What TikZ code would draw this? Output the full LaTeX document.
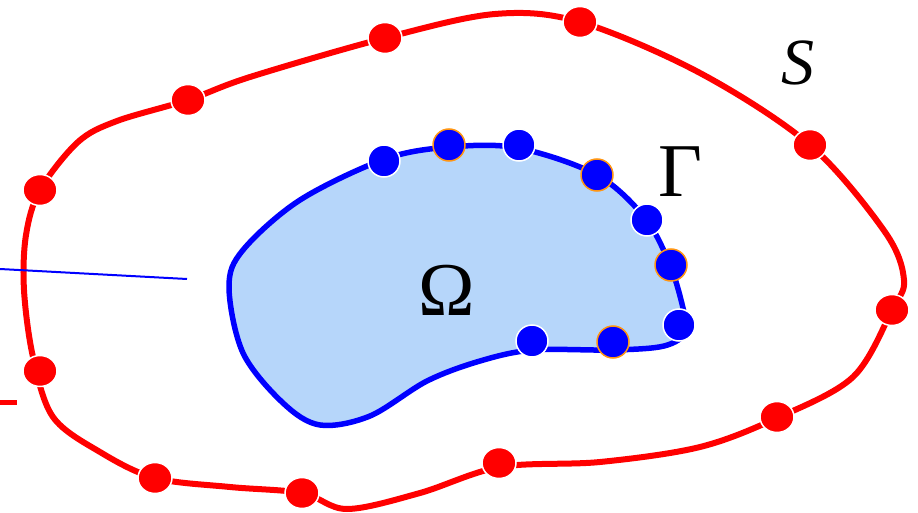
\documentclass[tikz,border=0pt]{standalone}
\usepackage{fontspec}
\setmainfont{Liberation Serif}
\newfontfamily\lblfont{Liberation Serif}
\usetikzlibrary{shapes.geometric}
\definecolor{rd}{RGB}{255,0,0}
\definecolor{bl}{RGB}{0,0,255}
\definecolor{fillb}{RGB}{182,214,250}
\definecolor{org}{RGB}{255,150,20}
\tikzset{
  rdot/.style={ellipse, fill=rd, draw=white, line width=1.5pt, minimum width=34pt, minimum height=31pt, inner sep=0pt},
  bdot/.style={circle, fill=bl, draw=white, line width=1.5pt, minimum size=32pt, inner sep=0pt},
  odot/.style={circle, fill=bl, draw=org, line width=1.5pt, minimum size=32pt, inner sep=0pt},
  lbl/.style={inner sep=0pt, text=black}
}
\begin{document}
\begin{tikzpicture}[x=1pt,y=-1pt]
\useasboundingbox (0,0) rectangle (918,513);
% outer curve S
\draw[rd, line width=6pt] plot[smooth cycle, tension=0.55] coordinates {
 (40,190) (78,142) (117,121) (188,100) (250,77) (385,38) (495,14) (580,22) (700,73) (810,145)
 (885,232) (904,280) (892,310) (853,377) (777,418) (700,447) (600,462) (500,467) (420,493)
 (347,509) (302,493) (230,487) (155,478) (100,452) (53,417) (33,357) (24,290) (26,235)};
% inner domain
\draw[bl, line width=5.5pt, fill=fillb] plot[smooth cycle, tension=0.55] coordinates {
 (229,287) (243,250) (300,200) (385,159) (450,147) (518,148) (597,175) (645,218) (670,265)
 (683,308) (686,332) (664,346) (613,350) (533,350) (480,361) (427,381) (370,416) (320,425)
 (283,403) (243,353)};
% thin lines at left
\draw[bl, line width=2pt] (0,269) -- (187,279);
\draw[rd, line width=5pt] (0,402) -- (17,402);
% red points
\node[rdot] (r1) at (188,100) {};
\node[rdot] (r2) at (385,38) {};
\node[rdot] (r3) at (580,22) {};
\node[rdot] (r4) at (810,145) {};
\node[rdot] (r5) at (892,310) {};
\node[rdot] (r6) at (777,417) {};
\node[rdot] (r7) at (499,463) {};
\node[rdot] (r8) at (302,493) {};
\node[rdot] (r9) at (155,478) {};
\node[rdot] (r10) at (40,371) {};
\node[rdot] (r11) at (40,190) {};
% blue points
\node[bdot] (b1) at (384,161) {};
\node[odot] (b2) at (449,145) {};
\node[bdot] (b3) at (519,145) {};
\node[odot] (b4) at (597,175) {};
\node[bdot] (b5) at (647,220) {};
\node[odot] (b6) at (671,265) {};
\node[bdot] (b7) at (679,325) {};
\node[odot] (b8) at (613,342) {};
\node[bdot] (b9) at (532,341) {};
% labels
\node[lbl, font=\lblfont\fontsize{66}{66}\selectfont\itshape] (S) at (798,63) {S};
\node[lbl, font=\lblfont\fontsize{76}{76}\selectfont] (G) at (680,172) {Γ};
\node[lbl, font=\lblfont\fontsize{76}{76}\selectfont] (O) at (447,290) {Ω};
\end{tikzpicture}
\end{document}
